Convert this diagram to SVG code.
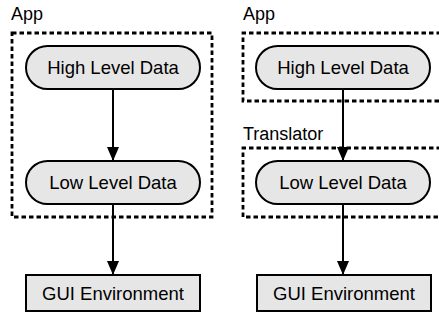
<svg xmlns="http://www.w3.org/2000/svg" width="439" height="320" viewBox="0 0 439 320">
<style>
.lbl{font-family:"Liberation Sans",Arial,sans-serif;font-size:18px;fill:#000}
.nt{font-family:"Liberation Sans",Arial,sans-serif;font-size:18.5px;fill:#000;text-anchor:middle}
.grp{fill:none;stroke:#000;stroke-width:2.8;stroke-dasharray:4.5 3}
.node{fill:#e6e6e6;stroke:#000;stroke-width:2}
.edge{stroke:#000;stroke-width:2;fill:none}
</style>
<defs>
<marker id="ah" viewBox="0 0 14 12" refX="14" refY="6" markerWidth="14" markerHeight="12" markerUnits="userSpaceOnUse" orient="auto">
<path d="M0,0 L14,6 L0,12 Z" fill="#000"/>
</marker>
</defs>
<g id="groups">
<g id="app-left"><rect class="grp" x="12" y="33" width="200" height="184"/><text class="lbl" x="11" y="20">App</text></g>
<g id="app-right"><path class="grp" d="M441,33 H243 V101 H441"/><text class="lbl" x="243" y="20">App</text></g>
<g id="translator"><path class="grp" d="M441,148 H243 V217 H441"/><text class="lbl" x="243" y="140">Translator</text></g>
</g>
<g id="connectors">
<line class="edge" x1="113" y1="89" x2="113" y2="161" marker-end="url(#ah)"/>
<line class="edge" x1="113" y1="204" x2="113" y2="275" marker-end="url(#ah)"/>
<line class="edge" x1="343" y1="89" x2="343" y2="161" marker-end="url(#ah)"/>
<line class="edge" x1="343" y1="204" x2="343" y2="275" marker-end="url(#ah)"/>
</g>
<g id="high-left"><rect class="node" x="26" y="46" width="174" height="43" rx="21.5"/><text class="nt" x="113" y="74">High Level Data</text></g>
<g id="low-left"><rect class="node" x="26" y="161" width="174" height="43" rx="21.5"/><text class="nt" x="113" y="189">Low Level Data</text></g>
<g id="gui-left"><rect class="node" x="26" y="275" width="174" height="36"/><text class="nt" x="113" y="300">GUI Environment</text></g>
<g id="high-right"><rect class="node" x="256" y="46" width="174" height="43" rx="21.5"/><text class="nt" x="343" y="74">High Level Data</text></g>
<g id="low-right"><rect class="node" x="256" y="161" width="174" height="43" rx="21.5"/><text class="nt" x="343" y="189">Low Level Data</text></g>
<g id="gui-right"><rect class="node" x="257" y="275" width="174" height="36"/><text class="nt" x="344" y="300">GUI Environment</text></g>
</svg>
